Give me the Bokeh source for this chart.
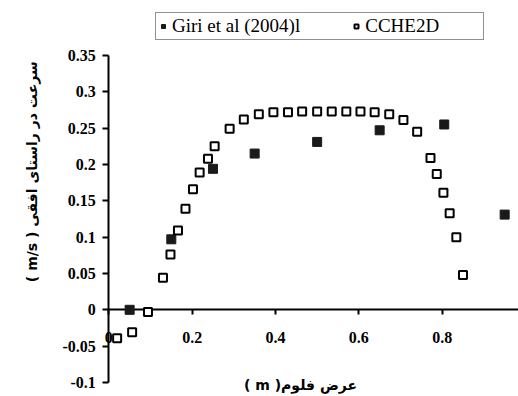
from bokeh.plotting import figure
from bokeh.models import Range1d, LinearAxis, FixedTicker, Legend, LegendItem, Label
from bokeh.embed import file_html
from bokeh.resources import INLINE

# ---- data ----
giri_x = [0.05, 0.15, 0.25, 0.35, 0.50, 0.65, 0.805, 0.95]
giri_y = [0.0, 0.097, 0.194, 0.215, 0.231, 0.247, 0.255, 0.131]

cche_x = [0.02, 0.056, 0.094, 0.130, 0.148, 0.166, 0.184, 0.202, 0.218, 0.238, 0.254,
          0.290, 0.324, 0.360, 0.395, 0.430, 0.464, 0.500, 0.535, 0.570, 0.604, 0.638,
          0.673, 0.707, 0.740, 0.772, 0.787, 0.803, 0.818, 0.834, 0.850]
cche_y = [-0.039, -0.031, -0.003, 0.044, 0.076, 0.109, 0.139, 0.166, 0.189, 0.208, 0.225,
          0.249, 0.262, 0.269, 0.272, 0.272, 0.273, 0.273, 0.273, 0.273, 0.273, 0.272,
          0.269, 0.261, 0.245, 0.209, 0.187, 0.161, 0.133, 0.100, 0.048]

x_ticks = [0, 0.2, 0.4, 0.6, 0.8]
x_tick_labels = ["0", "0.2", "0.4", "0.6", "0.8"]
y_ticks = [-0.1, -0.05, 0, 0.05, 0.1, 0.15, 0.2, 0.25, 0.3, 0.35]
y_tick_labels = ["-0.1", "-0.05", "0", "0.05", "0.1", "0.15", "0.2", "0.25", "0.3", "0.35"]

series_names = ["Giri et al (2004)l", "CCHE2D"]
x_title = "( m )عرض فلوم"
y_title = "( m/s ) سرعت در راستای افقی"

serif = "Liberation Serif"

# the frame covers the whole canvas; the axes cross at the origin
p = figure(width=518, height=396, title=None,
           x_range=Range1d(-0.2599, 0.9832), y_range=Range1d(-0.1193, 0.4256),
           output_backend="svg", toolbar_location=None, x_axis_type=None, y_axis_type=None,
           min_border_left=0, min_border_right=0, min_border_top=0, min_border_bottom=0)
p.grid.visible = False
p.outline_line_color = None
p.background_fill_color = "white"


def style_axis(ax, tick_out, standoff):
    ax.minor_tick_line_color = None
    ax.major_tick_out = tick_out
    ax.major_tick_in = 0
    ax.major_label_standoff = standoff
    ax.axis_line_width = 2
    ax.major_tick_line_width = 2
    ax.axis_line_color = "black"
    ax.major_tick_line_color = "black"
    ax.major_label_text_font = serif
    ax.major_label_text_font_style = "bold"
    ax.major_label_text_font_size = "16px"
    ax.major_label_text_color = "black"


ya = LinearAxis(fixed_location=0, bounds=(min(y_ticks), max(y_ticks)),
                ticker=FixedTicker(ticks=y_ticks),
                major_label_overrides={t: l for t, l in zip(y_ticks, y_tick_labels)})
style_axis(ya, 6, 7)
p.add_layout(ya, "left")

xa = LinearAxis(fixed_location=0, bounds=(0, 1.0), ticker=FixedTicker(ticks=x_ticks),
                major_label_overrides={t: l for t, l in zip(x_ticks, x_tick_labels)})
style_axis(xa, 5, 17)
p.add_layout(xa, "below")

r1 = p.scatter(giri_x, giri_y, marker="square", size=9, fill_color="#1a1a1a",
               line_color="#1a1a1a", line_width=1, level="overlay")
r2 = p.scatter(cche_x, cche_y, marker="square", size=8, fill_color="white",
               line_color="black", line_width=2, level="overlay")

legend = Legend(items=[LegendItem(label=series_names[0], renderers=[r1]),
                       LegendItem(label=series_names[1], renderers=[r2])],
                orientation="horizontal", location=(155, 356))
legend.label_text_font = serif
legend.label_text_font_size = "19px"
legend.label_text_color = "black"
legend.border_line_color = "#222222"
legend.border_line_width = 1
legend.background_fill_alpha = 1
legend.padding = 2
legend.spacing = 51
legend.glyph_width = 10
legend.glyph_height = 20
legend.label_height = 20
legend.label_standoff = 4
legend.label_width = 116
legend.margin = 0
p.add_layout(legend)

# axis titles
p.add_layout(Label(x=0.46, y=-0.1, y_offset=-3, text=x_title, text_align="center",
                   text_baseline="middle", text_font="DejaVu Sans", text_font_style="bold",
                   text_font_size="14px", text_color="black"))
p.add_layout(Label(x=0, y=0.19, x_offset=-77, text=y_title, angle=90, angle_units="deg",
                   text_align="center", text_baseline="middle", text_font="DejaVu Sans",
                   text_font_style="bold", text_font_size="14px", text_color="black"))

open("out.html", "w").write(file_html(p, INLINE))
